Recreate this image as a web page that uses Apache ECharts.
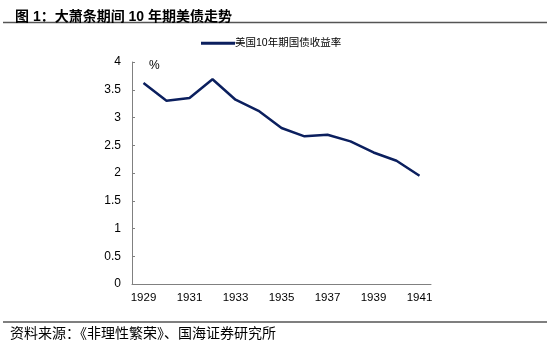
<!DOCTYPE html>
<html><head><meta charset="utf-8">
<script src="https://cdn.jsdelivr.net/npm/echarts@6/dist/echarts.min.js"></script>
<style>html,body{margin:0;padding:0;background:#fff}#c{width:550px;height:343px}</style>
</head><body><div id="c"></div>
<script>
var years = ['1929','1930','1931','1932','1933','1934','1935','1936','1937','1938','1939','1940','1941'];
var yields = [3.62, 3.30, 3.35, 3.69, 3.32, 3.12, 2.81, 2.66, 2.69, 2.57, 2.37, 2.22, 1.95];
var seriesName = '美国10年期国债收益率';
var titleText = '图 1：大萧条期间 10 年期美债走势';
var sourceText = '资料来源：《非理性繁荣》、国海证券研究所';

var chart = echarts.init(document.getElementById('c'), null, {renderer:'canvas'});
var font = 'Arial, "Liberation Sans", "Noto Sans CJK SC", sans-serif';
chart.setOption({
  animation:false,
  backgroundColor:'#fff',
  title:{text:titleText,left:10,top:5,textStyle:{fontSize:14,fontWeight:'bold',color:'#000',fontFamily:'"Liberation Sans","Noto Sans CJK SC",sans-serif'}},
  legend:{data:[seriesName],left:196,top:33,icon:'rect',itemWidth:34,itemHeight:3,itemGap:4,
    textStyle:{fontSize:10.5,color:'#000',fontFamily:font,padding:[0,0,0,-5]}},
  grid:{left:132,right:119,top:62,bottom:59,containLabel:false},
  xAxis:{type:'category',data:years,boundaryGap:true,
    axisLine:{lineStyle:{color:'#808080',width:1}},
    axisTick:{inside:true,length:3,alignWithLabel:false,lineStyle:{color:'#808080'}},
    axisLabel:{interval:1,color:'#000',fontSize:11.5,fontFamily:font,margin:8}},
  yAxis:{type:'value',min:0,max:4,interval:0.5,
    axisLine:{show:true,lineStyle:{color:'#808080',width:1}},
    axisTick:{show:true,inside:true,length:3,lineStyle:{color:'#808080'}},
    splitLine:{show:false},
    axisLabel:{color:'#000',fontSize:12,fontFamily:font,margin:11}},
  series:[{name:seriesName,type:'line',data:yields,symbol:'none',
    lineStyle:{color:'#0b1f5e',width:2.5},itemStyle:{color:'#0b1f5e'}}],
  graphic:[
    {type:'line',shape:{x1:3,y1:22.5,x2:547,y2:22.5},style:{stroke:'#555',lineWidth:1.5}},
    {type:'line',shape:{x1:3,y1:322,x2:547,y2:322},style:{stroke:'#555',lineWidth:1.5}},
    {type:'text',left:149,top:60,style:{text:'%',fontSize:12,fill:'#000',fontFamily:font}},
    {type:'text',left:10,top:326,style:{text:sourceText,fontSize:14,fill:'#000',fontFamily:'"Noto Sans CJK SC",sans-serif'}}
  ]
});
</script></body></html>
